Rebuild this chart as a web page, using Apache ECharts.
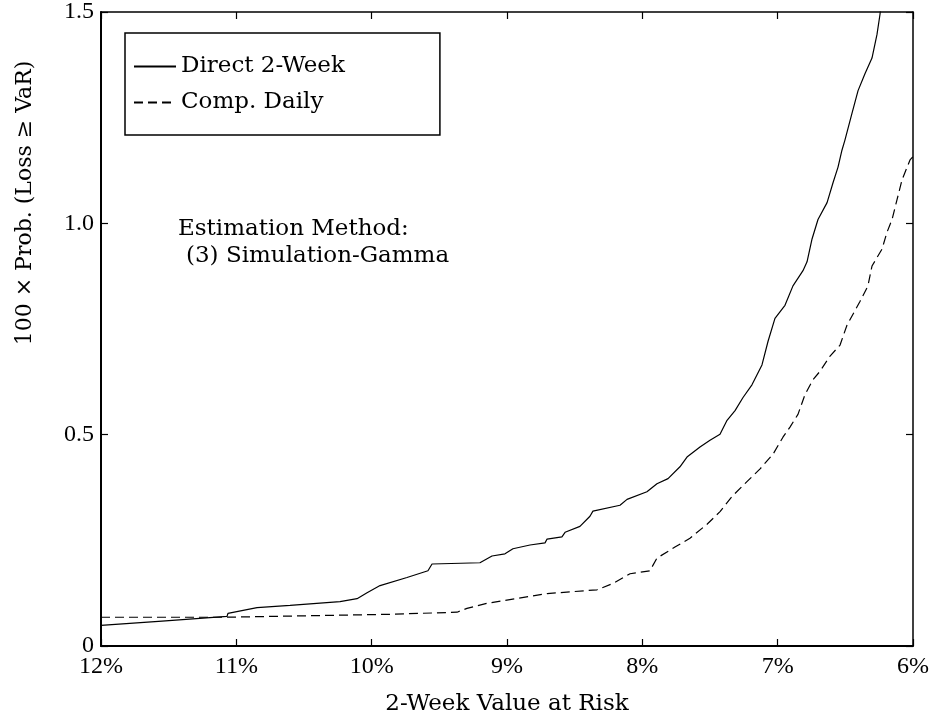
<!DOCTYPE html>
<html>
<head>
<meta charset="utf-8">
<script src="https://cdn.jsdelivr.net/npm/echarts@6/dist/echarts.min.js"></script>
<style>
  html, body { margin: 0; padding: 0; background: #fff; }
  #graph { width: 932px; height: 721px; }
</style>
</head>
<body>
<div id="graph"></div>
<script>
// values (x = VaR in %, y = 100 x probability)
var directVaR = [12.000, 11.549, 11.542, 11.069, 11.062, 10.847, 10.603, 10.234, 10.108, 10.034,
  9.938, 9.739, 9.584, 9.554, 9.200, 9.111, 9.015, 8.956, 8.830, 8.719,
  8.704, 8.594, 8.571, 8.461, 8.387, 8.365, 8.165, 8.113, 7.966, 7.892,
  7.810, 7.722, 7.670, 7.574, 7.500, 7.426, 7.374, 7.315, 7.256, 7.190,
  7.116, 7.071, 7.020, 6.946, 6.887, 6.813, 6.783, 6.746, 6.702, 6.635,
  6.591, 6.554, 6.525, 6.503, 6.451, 6.406, 6.355, 6.303, 6.266, 6.244, 6.235];
var directProb = [0.049, 0.059, 0.063, 0.070, 0.077, 0.091, 0.096, 0.105, 0.112, 0.126,
  0.143, 0.162, 0.178, 0.194, 0.197, 0.213, 0.218, 0.230, 0.239, 0.244,
  0.253, 0.258, 0.269, 0.283, 0.307, 0.319, 0.333, 0.347, 0.365, 0.384,
  0.396, 0.424, 0.447, 0.471, 0.487, 0.501, 0.534, 0.557, 0.588, 0.618,
  0.665, 0.721, 0.775, 0.806, 0.852, 0.888, 0.909, 0.963, 1.009, 1.049,
  1.096, 1.133, 1.173, 1.197, 1.260, 1.314, 1.354, 1.391, 1.447, 1.494, 1.52];

var dailyVaR = [12.000, 11.099, 9.865, 9.369, 9.296, 9.148, 8.704, 8.335, 8.217, 8.091,
  7.944, 7.892, 7.759, 7.648, 7.522, 7.426, 7.337, 7.227, 7.130, 7.034,
  6.961, 6.909, 6.850, 6.798, 6.739, 6.687, 6.613, 6.539, 6.488, 6.392,
  6.333, 6.303, 6.229, 6.192, 6.155, 6.118, 6.081, 6.022, 6.000];
var dailyProb = [0.068, 0.068, 0.075, 0.080, 0.089, 0.101, 0.124, 0.133, 0.148, 0.171,
  0.178, 0.208, 0.234, 0.255, 0.288, 0.318, 0.354, 0.389, 0.419, 0.454,
  0.494, 0.518, 0.548, 0.595, 0.630, 0.650, 0.686, 0.712, 0.759, 0.815,
  0.852, 0.899, 0.939, 0.979, 1.009, 1.056, 1.103, 1.150, 1.158];

var seriesNames = ['Direct 2-Week', 'Comp. Daily'];

// pair the x and y arrays for the library
function pairs(xs, ys) {
  var out = [];
  for (var i = 0; i < xs.length; i++) {
    out.push([xs[i], ys[i]]);
  }
  return out;
}

var FONT = '"DejaVu Serif", "Liberation Serif", serif';
var TICKFONT = '"Liberation Serif", "DejaVu Serif", serif';

var chart = echarts.init(document.getElementById('graph'));

// shared look of the mirrored axes
function xAxisBase(pos, labels) {
  return {
    type: 'value',
    position: pos,
    min: 6,
    max: 12,
    interval: 1,
    inverse: true,
    axisLine: { show: true, onZero: false, lineStyle: { color: '#000', width: pos === 'bottom' ? 2 : 1.5 } },
    axisTick: { show: true, inside: true, length: 7, lineStyle: { color: '#000', width: 1.2 } },
    axisLabel: {
      show: labels,
      margin: 9,
      color: '#000',
      fontFamily: TICKFONT,
      fontSize: 24,
      formatter: '{value}%'
    },
    splitLine: { show: false }
  };
}

function yAxisBase(pos, labels) {
  return {
    type: 'value',
    position: pos,
    min: 0,
    max: 1.5,
    interval: 0.5,
    axisLine: { show: true, onZero: false, lineStyle: { color: '#000', width: pos === 'left' ? 2 : 1.5 } },
    axisTick: { show: true, inside: true, length: 7, lineStyle: { color: '#000', width: 1.2 } },
    axisLabel: {
      show: labels,
      margin: 7,
      color: '#000',
      fontFamily: TICKFONT,
      fontSize: 24,
      formatter: function (v) { return v === 0 ? '0' : v.toFixed(1); }
    },
    splitLine: { show: false }
  };
}

var xBottom = xAxisBase('bottom', true);
xBottom.name = '2-Week Value at Risk';
xBottom.nameLocation = 'middle';
xBottom.nameGap = 47;
xBottom.nameTextStyle = { color: '#000', fontFamily: FONT, fontSize: 23 };

var option = {
  backgroundColor: '#fff',
  animation: false,
  grid: { left: 101, right: 19, top: 10, bottom: 70 },
  xAxis: [xBottom, xAxisBase('top', false)],
  yAxis: [yAxisBase('left', true), yAxisBase('right', false)],
  legend: {
    data: seriesNames,
    orient: 'vertical',
    left: 125,
    top: 33,
    padding: [22, 95, 21, 8],
    itemGap: 13,
    itemWidth: 42,
    itemHeight: 20,
    itemStyle: { opacity: 0 },
    borderColor: '#000',
    borderWidth: 1.5,
    borderRadius: 0,
    textStyle: { color: '#000', fontFamily: FONT, fontSize: 23 }
  },
  graphic: [
    {
      // y axis title, sits above the middle of the axis as in the source
      type: 'text',
      x: 25,
      y: 203,
      rotation: Math.PI / 2,
      style: {
        text: '100 \u00d7 Prob. (Loss \u2265 VaR)',
        fill: '#000',
        font: '22px ' + FONT,
        align: 'center',
        verticalAlign: 'middle'
      }
    },
    {
      type: 'text',
      left: 178,
      top: 218,
      style: { text: 'Estimation Method:', fill: '#000', font: '23px ' + FONT }
    },
    {
      type: 'text',
      left: 186,
      top: 245,
      style: { text: '(3) Simulation-Gamma', fill: '#000', font: '23px ' + FONT }
    }
  ],
  series: [{
    name: seriesNames[0],
    type: 'line',
    data: pairs(directVaR, directProb),
    showSymbol: false,
    symbol: 'none',
    clip: true,
    lineStyle: { color: '#000', width: 1.2, type: 'solid' },
    itemStyle: { color: '#000' }
  }, {
    name: seriesNames[1],
    type: 'line',
    data: pairs(dailyVaR, dailyProb),
    showSymbol: false,
    symbol: 'none',
    clip: true,
    lineStyle: { color: '#000', width: 1.2, type: [9, 5] },
    itemStyle: { color: '#000' }
  }]
};

chart.setOption(option);
</script>
</body>
</html>
